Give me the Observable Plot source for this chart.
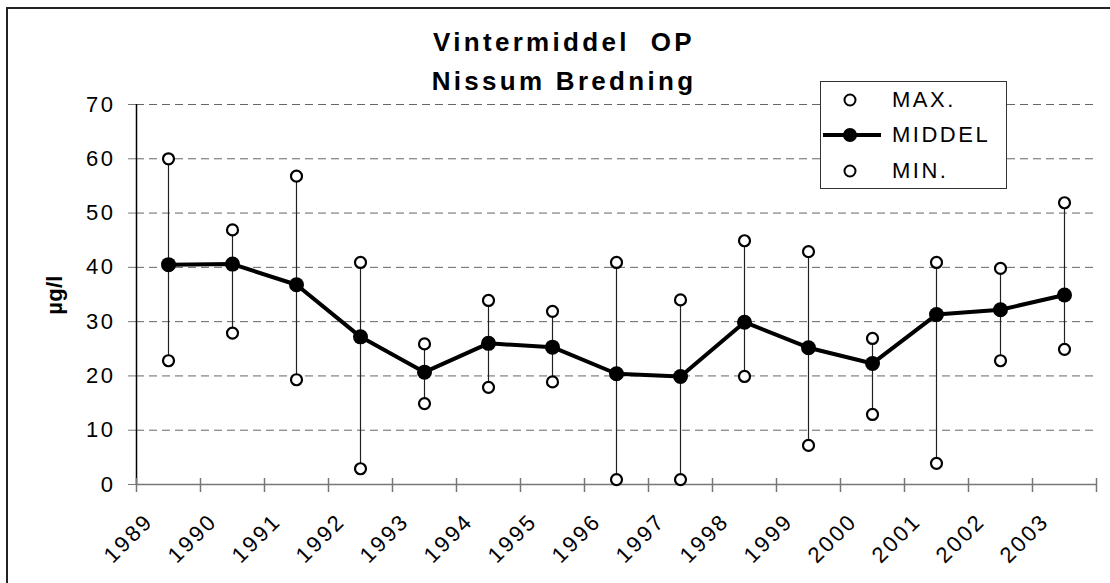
<!DOCTYPE html>
<html>
<head>
<meta charset="utf-8">
<script src="https://cdn.jsdelivr.net/npm/d3@7"></script>
<script src="https://cdn.jsdelivr.net/npm/@observablehq/plot@0.6"></script>
<style>
  body { margin: 0; background: #fff; font-family: Arial, "Liberation Sans", sans-serif; }
  #wrap { position: relative; width: 1110px; height: 583px; overflow: hidden; background: #fff; }
  #wrap svg { position: absolute; left: 0; top: 0; }
  #border { position: absolute; left: 6px; top: 7px; width: 1120px; height: 600px; border: 2px solid #222; box-sizing: border-box; pointer-events: none; }
  #title { position: absolute; left: 331px; width: 460px; top: 23px; text-align: center; font-weight: bold; font-size: 26px; line-height: 39px; letter-spacing: 3.3px; padding-left: 3px; white-space: pre; color: #000; }
  #ylabel { position: absolute; left: 55px; top: 295px; transform: translate(-50%, -50%) rotate(-90deg); font-weight: bold; font-size: 22px; line-height: 22px; letter-spacing: 0.3px; white-space: nowrap; color: #000; }
  #legend { position: absolute; left: 820px; top: 81px; width: 187px; height: 108px; box-sizing: border-box; border: 1.5px solid #333; background: #fff; }
  .item { position: absolute; left: 0; height: 30px; width: 185px; }
  .item svg { position: absolute; left: 6px; top: 0; }
  .item span { position: absolute; left: 71px; top: 0; font-size: 22px; line-height: 30px; letter-spacing: 2.5px; color: #000; }
</style>
</head>
<body>
<div id="wrap">
  <div id="chart"></div>
  <div id="border"></div>
  <div id="title"></div>
  <div id="ylabel"></div>
  <div id="legend"></div>
</div>
<script>
const titleLines = ["Vintermiddel  OP", "Nissum Bredning"];
const yLabel = "µg/l";
const years = ["1989","1990","1991","1992","1993","1994","1995","1996","1997","1998","1999","2000","2001","2002","2003"];
const maxValues  = [60, 46.9, 56.8, 40.9, 25.9, 33.9, 31.9, 40.9, 34, 44.9, 42.9, 26.9, 40.9, 39.8, 51.9];
const meanValues = [40.5, 40.6, 36.8, 27.2, 20.7, 26.0, 25.3, 20.4, 19.9, 29.9, 25.2, 22.3, 31.3, 32.2, 34.9];
const minValues  = [22.8, 27.9, 19.3, 2.9, 14.9, 17.9, 18.9, 0.9, 0.9, 19.9, 7.2, 12.9, 3.9, 22.8, 24.9];
const yTicks = [0, 10, 20, 30, 40, 50, 60, 70];
const legendLabels = ["MAX.", "MIDDEL", "MIN."];

const data = years.map((year, i) => ({
  year, pos: i + 0.5, max: maxValues[i], mean: meanValues[i], min: minValues[i]
}));
const boundaries = d3.range(years.length + 1);

const chart = Plot.plot({
  width: 1110,
  height: 583,
  marginLeft: 136,
  marginRight: 14,
  marginTop: 104,
  marginBottom: 99,
  x: { domain: [0, years.length], axis: null },
  y: { domain: [0, 70], axis: null },
  style: { fontFamily: "Arial, 'Liberation Sans', sans-serif", fontSize: "22px", letterSpacing: "2.5px", color: "#000", background: "transparent" },
  marks: [
    Plot.gridY(yTicks.slice(1), { stroke: "#666", strokeOpacity: 1, strokeDasharray: "8,5" }),
    Plot.axisY(yTicks, { tickSize: 8, tickPadding: 13, stroke: "#777", fontSize: 22, label: null }),
    Plot.ruleY([0], { stroke: "#777", strokeWidth: 1.5 }),
    Plot.ruleX([0], { stroke: "#000", strokeWidth: 1.5 }),
    Plot.ruleX(boundaries, { y1: 0, y2: 0, insetTop: 8, insetBottom: 6, stroke: "#777", strokeWidth: 1.5 }),
    Plot.ruleX(data, { x: "pos", y1: "min", y2: "max", stroke: "#222", strokeWidth: 1.2 }),
    Plot.line(data, { x: "pos", y: "mean", stroke: "#000", strokeWidth: 4 }),
    Plot.dot(data, { x: "pos", y: "max", r: 5.5, fill: "#fff", stroke: "#000", strokeWidth: 2.2 }),
    Plot.dot(data, { x: "pos", y: "min", r: 5.5, fill: "#fff", stroke: "#000", strokeWidth: 2.2 }),
    Plot.dot(data, { x: "pos", y: "mean", r: 7.5, fill: "#000", stroke: "none" }),
    Plot.text(data, { x: "pos", text: "year", frameAnchor: "bottom", rotate: -45, textAnchor: "end", lineAnchor: "bottom", dx: -14, dy: 38, fontSize: 22 })
  ]
});
document.getElementById("chart").appendChild(chart);

document.getElementById("title").textContent = titleLines.join("\n");
document.getElementById("ylabel").textContent = yLabel;

const legend = document.getElementById("legend");
const itemTops = [3, 38, 74];
legendLabels.forEach((label, i) => {
  const item = document.createElement("div");
  item.className = "item";
  item.style.top = itemTops[i] + "px";
  const marker = i === 1
    ? `<svg width="60" height="30"><line x1="2" y1="15" x2="60" y2="15" stroke="#000" stroke-width="4"/><circle cx="29" cy="15" r="7" fill="#000"/></svg>`
    : `<svg width="60" height="30"><circle cx="29" cy="15" r="5.5" fill="#fff" stroke="#000" stroke-width="2"/></svg>`;
  item.innerHTML = marker + `<span>${label}</span>`;
  legend.appendChild(item);
});
</script>
</body>
</html>
